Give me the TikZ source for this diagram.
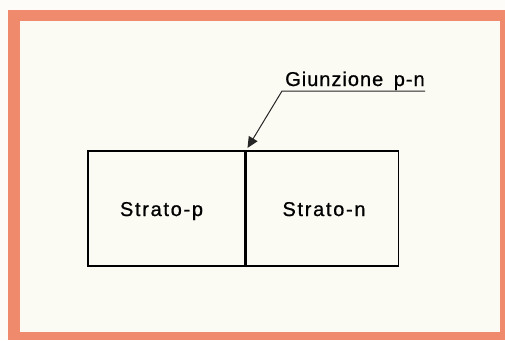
\documentclass[tikz,border=0pt]{standalone}
\usepackage{fontspec}
\setmainfont{Liberation Sans}[LetterSpace=8.5,FakeBold=0.8]
\usetikzlibrary{arrows.meta}
\definecolor{framecol}{HTML}{F08A6C}
\definecolor{paper}{HTML}{FBFAF3}
\begin{document}
\begin{tikzpicture}[x=1pt,y=-1pt,
  lbl/.style={font=\fontsize{20}{22}\selectfont, inner sep=0pt, anchor=base},
  layer/.style={draw=black, line width=1.3pt, minimum height=115pt, inner sep=0pt},
  leader/.style={draw=black!85, line width=1pt}]
\useasboundingbox (0,0) rectangle (505,340);
\fill[paper!50!white] (0,0) rectangle (505,340);
\fill[framecol] (8,10) rectangle (505,340);
\fill[paper] (20,21) rectangle (500,332);
\node[layer, minimum width=157pt] (p) at (166.5,208.5) {};
\node[layer, minimum width=154pt] (n) at (321.5,208.5) {};
\draw[line width=2.2pt] (p.north east) -- (p.south east);
\node[lbl] (tp) at (161.5,216) {Strato-p};
\node[lbl] (tn) at (324,216) {Strato-n};
\node[lbl, anchor=base west] (g) at (285,86) {\addfontfeature{LetterSpace=5}Giunzione\hspace{4pt} p-n};
\coordinate (u1) at (282,91);
\coordinate (u2) at (425,91);
\coordinate (tip) at (247.5,148);
\draw[leader, -{Triangle[length=11pt,width=10pt]}] (u2) -- (u1) -- (tip);
\end{tikzpicture}
\end{document}
